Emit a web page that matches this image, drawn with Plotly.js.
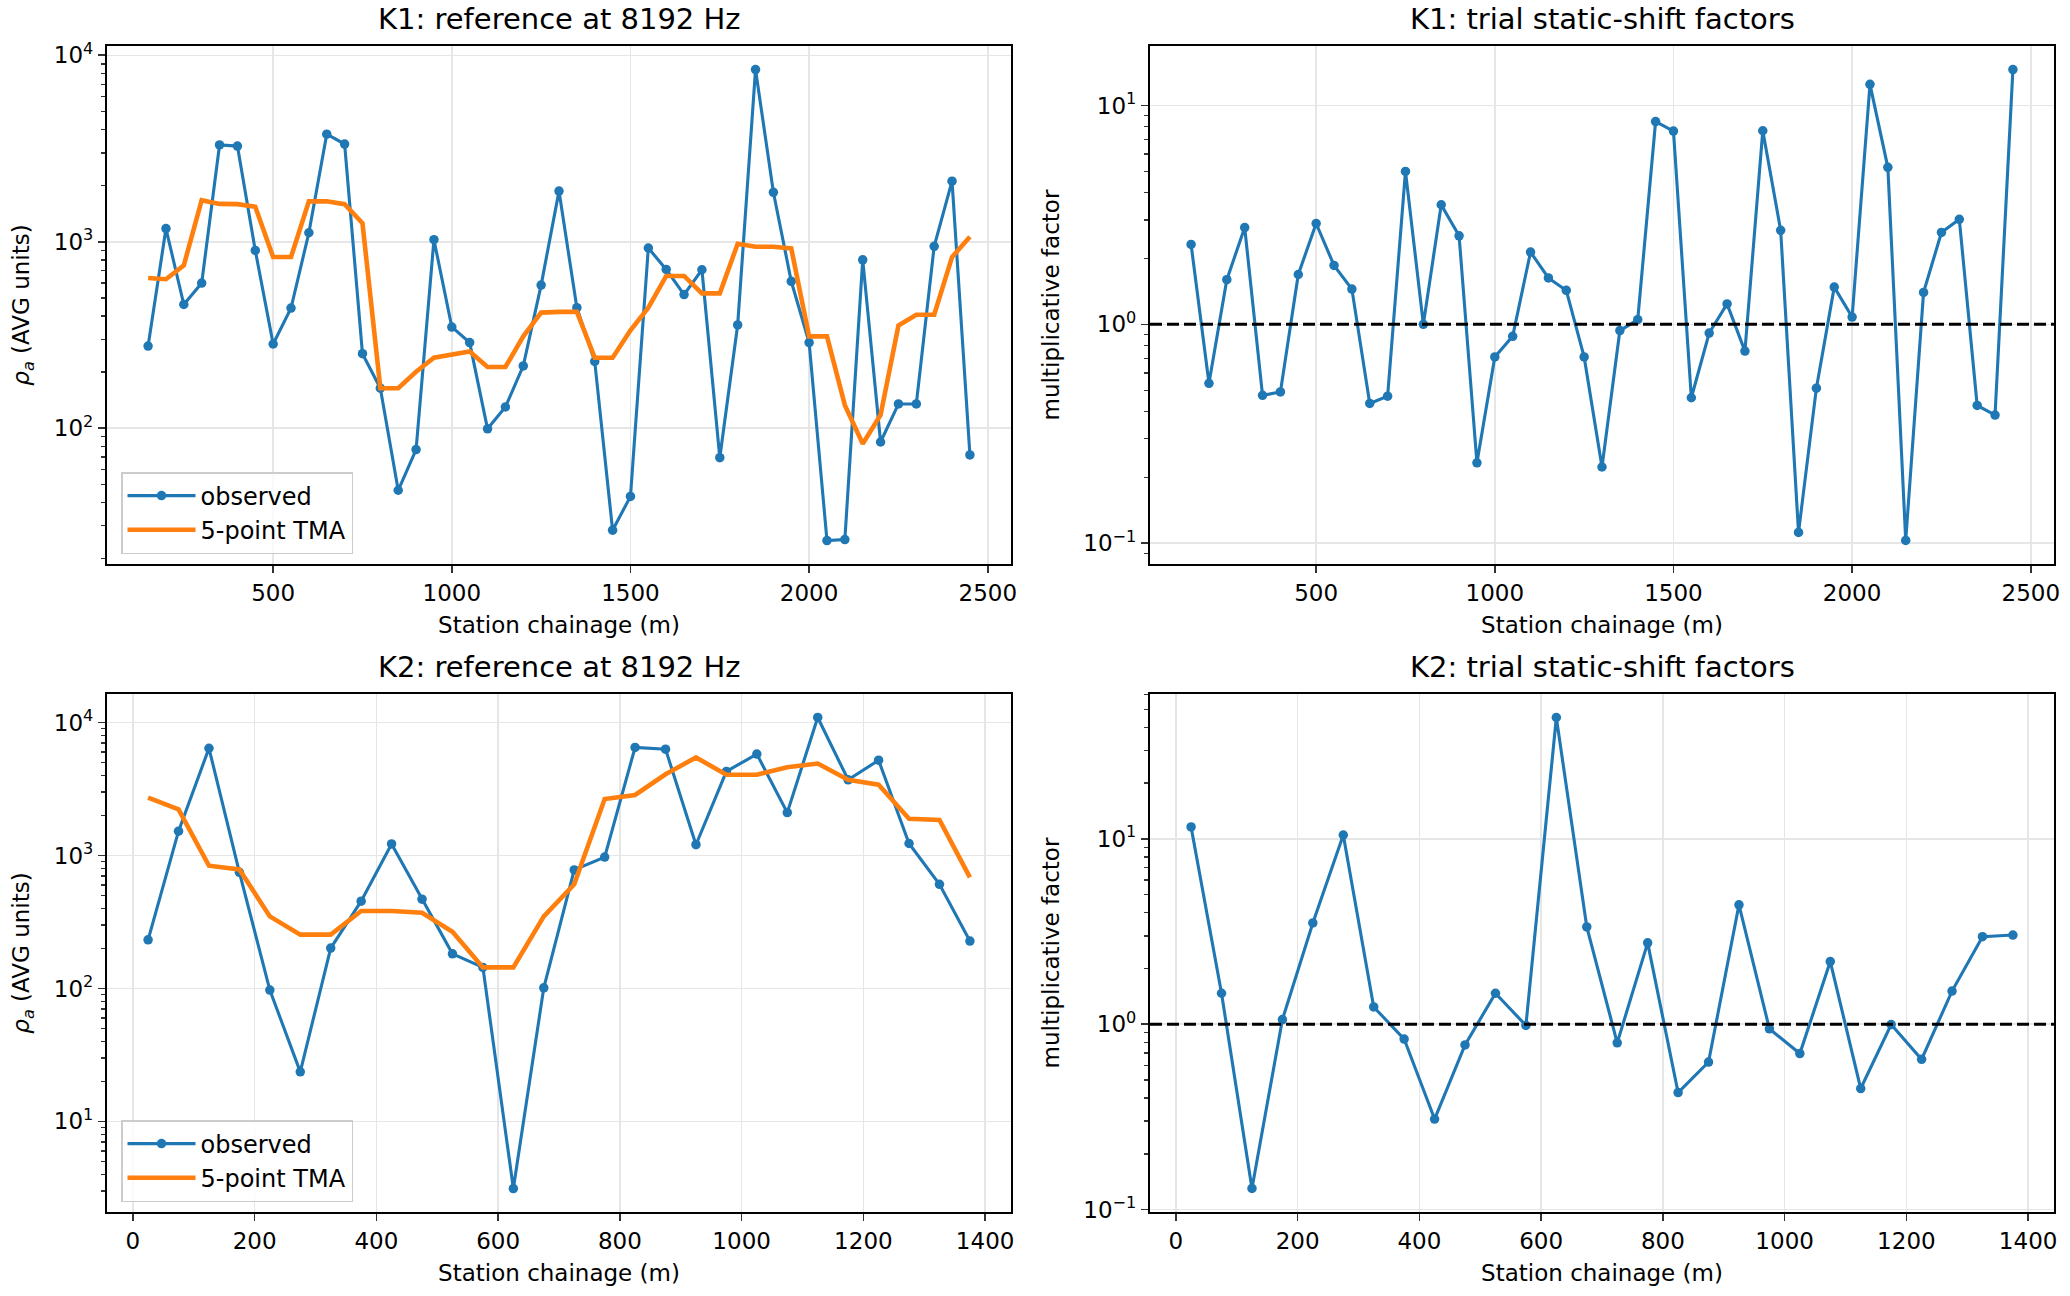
<!DOCTYPE html>
<html>
<head>
<meta charset="utf-8">
<script src="https://cdn.plot.ly/plotly-3.0.1.min.js"></script>
<style>
  html, body { margin: 0; padding: 0; background: #fff; }
  #chart { width: 2070px; height: 1296px; }
</style>
</head>
<body>
<div id="chart"></div>
<script>
// line K1: station chainage (m)
const k1Station = [150, 200, 250, 300, 350, 400, 450, 500, 550, 600,
  650, 700, 750, 800, 850, 900, 950, 1000, 1050, 1100,
  1150, 1200, 1250, 1300, 1350, 1400, 1450, 1500, 1550, 1600,
  1650, 1700, 1750, 1800, 1850, 1900, 1950, 2000, 2050, 2100,
  2150, 2200, 2250, 2300, 2350, 2400, 2450];
const k1Observed = [276, 1177, 461, 601, 3306, 3260, 899, 283, 441, 1118,
  3776, 3342, 251, 164, 46.5, 76.9, 1026, 349, 288, 99.3,
  130, 216, 586, 1870, 443, 228, 28.4, 43.1, 926, 711,
  521, 708, 69.5, 358, 8390, 1842, 614, 288, 25.0, 25.3,
  800, 84.4, 135, 135, 946, 2113, 71.9];
const k1Tma = [640, 630, 748, 1672, 1597, 1592, 1541, 828, 828, 1648,
  1648, 1590, 1257, 164, 164, 201, 239, 248, 258, 213,
  213, 311, 417, 421, 421, 239, 239, 335, 443, 656,
  656, 529, 529, 975, 940, 940, 922, 311, 311, 133,
  82.6, 118, 356, 406, 406, 828, 1063];
const k1Factor = [2.32, 0.538, 1.60, 2.77, 0.474, 0.491, 1.69, 2.89, 1.86, 1.45,
  0.435, 0.470, 5.00, 1.0, 3.52, 2.54, 0.233, 0.710, 0.882, 2.14,
  1.63, 1.43, 0.710, 0.223, 0.937, 1.05, 8.45, 7.64, 0.462, 0.913,
  1.24, 0.755, 7.67, 2.69, 0.112, 0.511, 1.48, 1.08, 12.5, 5.22,
  0.103, 1.40, 2.63, 3.02, 0.426, 0.385, 14.6];

// line K2
const k2Station = [25, 75, 125, 175, 225, 275, 325, 375, 425, 475,
  525, 575, 625, 675, 725, 775, 825, 875, 925, 975,
  1025, 1075, 1125, 1175, 1225, 1275, 1325, 1375];
const k2Observed = [232, 1523, 6397, 747, 97.2, 23.6, 201, 453, 1221, 469,
  182, 144, 3.13, 101, 779, 972, 6490, 6300, 1204, 4286,
  5780, 2100, 10900, 3707, 5200, 1230, 607, 227];
const k2Tma = [2717, 2222, 837, 785, 348, 254, 254, 382, 382, 371,
  267, 144, 144, 348, 607, 2657, 2851, 4076, 5458, 4049,
  4049, 4605, 4909, 3707, 3404, 1888, 1847, 685];
const k2Factor = [11.6, 1.47, 0.130, 1.06, 3.52, 10.5, 1.24, 0.832, 0.308, 0.774,
  1.47, 0.985, 45.2, 3.35, 0.794, 2.75, 0.428, 0.625, 4.41, 0.945,
  0.695, 2.18, 0.450, 0.996, 0.647, 1.51, 2.97, 3.03];

const titles = ["K1: reference at 8192 Hz", "K1: trial static-shift factors",
                "K2: reference at 8192 Hz", "K2: trial static-shift factors"];

const BLUE = "#1f77b4", ORANGE = "#ff7f0e";
const FONT = "DejaVu Sans, Liberation Sans, sans-serif";

// log decade labels in matplotlib style
function decades(lo, hi) {
  const vals = [], text = [], minor = [];
  for (let p = lo; p <= hi; p++) {
    vals.push(Math.pow(10, p));
    text.push("10<sup>" + (p < 0 ? "\u2212" + (-p) : p) + "</sup>");
  }
  for (let p = lo - 1; p <= hi; p++) {
    for (let m = 2; m <= 9; m++) minor.push(m * Math.pow(10, p));
  }
  return { vals, text, minor };
}

function xAxis(domain, range, dtick, anchor) {
  return {
    domain: domain, range: range, anchor: anchor,
    dtick: dtick, tick0: 0,
    showline: true, mirror: true, linecolor: "#000", linewidth: 2.1,
    ticks: "outside", ticklen: 7, tickwidth: 1.7, tickcolor: "#333",
    showgrid: true, gridcolor: "#e6e6e6", gridwidth: 1.6, zeroline: false,
    tickfont: { family: FONT, size: 23, color: "#000" },
    title: { text: "Station chainage (m)", standoff: 12,
             font: { family: FONT, size: 23, color: "#000" } }
  };
}

function yAxis(domain, range, lo, hi, label, anchor, standoff) {
  const d = decades(lo, hi);
  return {
    domain: domain, type: "log", range: range, anchor: anchor,
    tickmode: "array", tickvals: d.vals, ticktext: d.text,
    showline: true, mirror: true, linecolor: "#000", linewidth: 2.1,
    ticks: "outside", ticklen: 7, tickwidth: 1.7, tickcolor: "#333",
    minor: { tickmode: "array", tickvals: d.minor, ticks: "outside",
             ticklen: 4, tickwidth: 1.4, tickcolor: "#333", showgrid: false },
    showgrid: true, gridcolor: "#e6e6e6", gridwidth: 1.6, zeroline: false,
    tickfont: { family: FONT, size: 23, color: "#000" },
    title: { text: label, standoff: standoff,
             font: { family: FONT, size: 23, color: "#000" } }
  };
}

const observedStyle = { color: BLUE, width: 3.1 };
const tmaStyle = { color: ORANGE, width: 4.6 };
const dot = { color: BLUE, size: 9.5 };

const traces = [
  { x: k1Station, y: k1Observed, type: "scatter", mode: "lines+markers",
    name: "observed", line: observedStyle, marker: dot,
    xaxis: "x", yaxis: "y", legend: "legend" },
  { x: k1Station, y: k1Tma, type: "scatter", mode: "lines",
    name: "5-point TMA", line: tmaStyle,
    xaxis: "x", yaxis: "y", legend: "legend" },
  { x: k1Station, y: k1Factor, type: "scatter", mode: "lines+markers",
    line: observedStyle, marker: dot, showlegend: false,
    xaxis: "x2", yaxis: "y2" },
  { x: k2Station, y: k2Observed, type: "scatter", mode: "lines+markers",
    name: "observed", line: observedStyle, marker: dot,
    xaxis: "x3", yaxis: "y3", legend: "legend2" },
  { x: k2Station, y: k2Tma, type: "scatter", mode: "lines",
    name: "5-point TMA", line: tmaStyle,
    xaxis: "x3", yaxis: "y3", legend: "legend2" },
  { x: k2Station, y: k2Factor, type: "scatter", mode: "lines+markers",
    line: observedStyle, marker: dot, showlegend: false,
    xaxis: "x4", yaxis: "y4" }
];

// panel geometry in paper fractions
const colL = [107 / 2070, 1011 / 2070], colR = [1150 / 2070, 2054 / 2070];
const rowT = [1 - 564 / 1296, 1 - 46 / 1296], rowB = [1 - 1212 / 1296, 1 - 694 / 1296];
const rhoLabel = "<i>\u03c1<sub>a</sub></i> (AVG units)";

function legendAt(yTop) {
  return {
    x: 121 / 2070, y: yTop, xanchor: "left", yanchor: "top",
    bgcolor: "rgba(255,255,255,0.8)", bordercolor: "#cccccc", borderwidth: 1.5,
    font: { family: FONT, size: 24, color: "#000" },
    itemwidth: 68, tracegroupgap: 0
  };
}

function titleAt(col, yPaper, text) {
  return {
    text: text, xref: "paper", yref: "paper",
    x: (col[0] + col[1]) / 2, y: yPaper, xanchor: "center", yanchor: "bottom",
    showarrow: false, font: { family: FONT, size: 29, color: "#000" }
  };
}

const layout = {
  width: 2070, height: 1296, autosize: false,
  margin: { l: 0, r: 0, t: 0, b: 0 },
  paper_bgcolor: "#fff", plot_bgcolor: "#fff",
  font: { family: FONT, color: "#000" },
  xaxis: xAxis(colL, [35, 2565], 500, "y"),
  yaxis: yAxis(rowT, [1.272, 4.05], 2, 4, rhoLabel, "x", 18),
  xaxis2: xAxis(colR, [35, 2565], 500, "y2"),
  yaxis2: yAxis(rowT, [-1.095, 1.272], -1, 1, "multiplicative factor", "x2", 17),
  xaxis3: xAxis(colL, [-42.5, 1442.5], 200, "y3"),
  yaxis3: yAxis(rowB, [0.319, 4.214], 1, 4, rhoLabel, "x3", 18),
  xaxis4: xAxis(colR, [-42.5, 1442.5], 200, "y4"),
  yaxis4: yAxis(rowB, [-1.013, 1.782], -1, 1, "multiplicative factor", "x4", 17),
  legend: legendAt(1 - 472 / 1296),
  legend2: legendAt(1 - 1120 / 1296),
  shapes: [
    { type: "line", xref: "x2 domain", yref: "y2", x0: 0, x1: 1, y0: 1, y1: 1,
      line: { color: "#000", width: 3, dash: "12px,5px" } },
    { type: "line", xref: "x4 domain", yref: "y4", x0: 0, x1: 1, y0: 1, y1: 1,
      line: { color: "#000", width: 3, dash: "12px,5px" } }
  ],
  annotations: [
    titleAt(colL, 1 - 38 / 1296, titles[0]),
    titleAt(colR, 1 - 38 / 1296, titles[1]),
    titleAt(colL, 1 - 686 / 1296, titles[2]),
    titleAt(colR, 1 - 686 / 1296, titles[3])
  ]
};

Plotly.newPlot("chart", traces, layout, { staticPlot: true, displayModeBar: false });
</script>
</body>
</html>
